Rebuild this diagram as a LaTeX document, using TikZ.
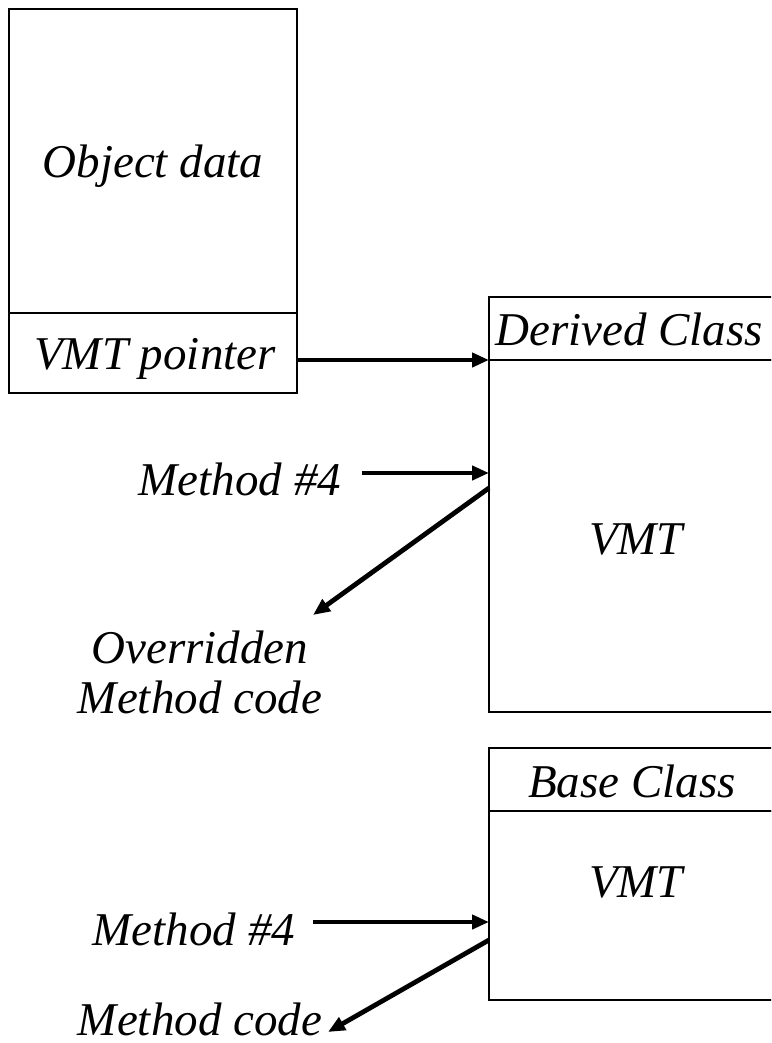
\documentclass[tikz,border=0pt]{standalone}
\usepackage{fontspec}
\setmainfont{Liberation Serif}
\usetikzlibrary{arrows.meta}
\begin{document}
\begin{tikzpicture}[x=1pt,y=-1pt,
  box/.style={draw, rectangle, line width=2.8pt, inner sep=0pt, outer sep=0pt},
  lbl/.style={inner sep=0pt, font=\itshape\fontsize{47}{50}\selectfont},
  ptr/.style={line width=4.8pt, -{Triangle[length=17pt,width=14pt]}}]
\useasboundingbox (0,0) rectangle (771,1043);
\clip (0,0) rectangle (771,1043);

% object layout
\node[box, minimum width=288pt, minimum height=304pt] (obj) at (153,161) {};
\node[box, minimum width=288pt, minimum height=80pt]  (ptrbox) at (153,353) {};
\node[lbl, anchor=base] (objtxt) at (153,178) {Object data};
\node[lbl, anchor=base] (ptrtxt) at (155,369) {VMT pointer};

% derived class table
\node[box, minimum width=287pt, minimum height=63pt]  (dhead) at (632.5,328.5) {};
\node[box, minimum width=287pt, minimum height=352pt] (dvmt)  at (632.5,536) {};
\node[lbl, anchor=base] (dheadtxt) at (629,345) {Derived Class};
\node[lbl, anchor=base] (dvmttxt)  at (636,554) {VMT};

% base class table
\node[box, minimum width=287pt, minimum height=63pt]  (bhead) at (632.5,779.5) {};
\node[box, minimum width=287pt, minimum height=189pt] (bvmt)  at (632.5,905.5) {};
\node[lbl, anchor=base] (bheadtxt) at (632,797) {Base Class};
\node[lbl, anchor=base] (bvmttxt)  at (636,897) {VMT};

% labels on the left
\node[lbl, anchor=base] (dm4) at (240,495) {Method \#4};
\node[lbl, align=center] (ovr) at (200,672) {Overridden\\Method code};
\node[lbl, anchor=base] (bm4) at (194,945) {Method \#4};
\node[lbl, anchor=base, text depth=0pt] (bcode) at (200,1035) {Method code};

% connector end points
\coordinate (dm4start) at (362,473);
\coordinate (dout) at (489,488);
\coordinate (ovrtip) at (313,615);
\coordinate (bm4start) at (313,922);
\coordinate (bout) at (489,940);
\coordinate (bcodetip) at (328,1032);

% connectors
\draw[ptr] (ptrbox.east |- dhead.south) -- (dhead.south west);
\draw[ptr] (dm4start) -- (dm4start -| dvmt.west);
\draw[ptr] (dout) -- (ovrtip);
\draw[ptr] (bm4start) -- (bm4start -| bvmt.west);
\draw[ptr] (bout) -- (bcodetip);
\end{tikzpicture}
\end{document}
